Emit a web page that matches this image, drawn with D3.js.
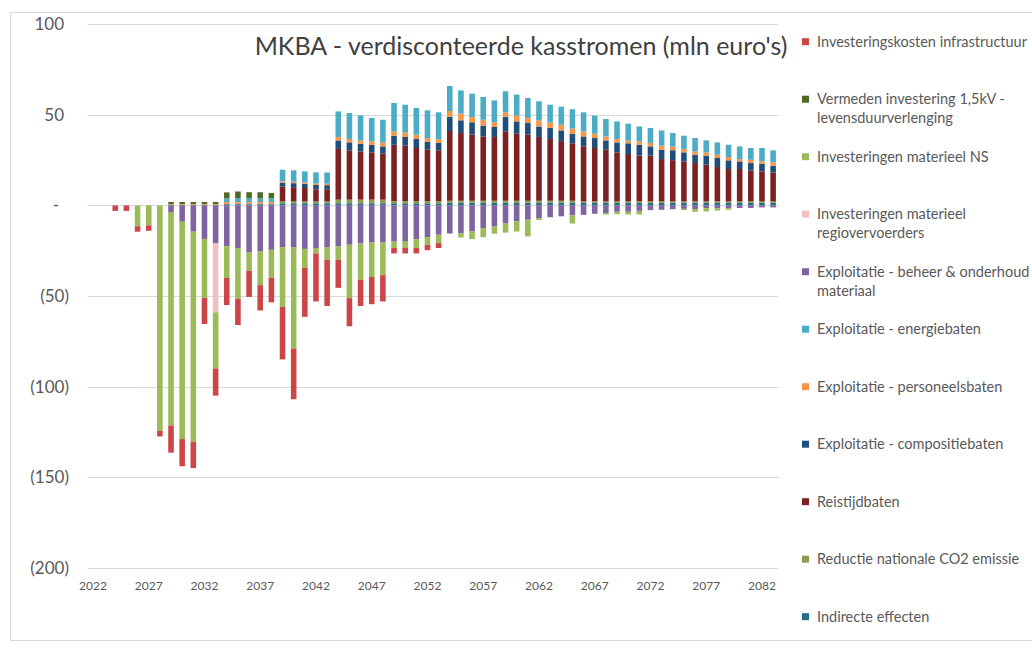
<!DOCTYPE html>
<html>
<head>
<meta charset="utf-8">
<script src="https://cdn.jsdelivr.net/npm/d3@7"></script>
<style>
  body { margin: 0; background: #fff; }
  svg { display: block; font-family: Lato, "Open Sans", sans-serif; }
</style>
</head>
<body>
<svg id="chart" width="1032" height="648"></svg>
<script>
// Years on the category axis
var years = d3.range(2022, 2084);

// Series values (mln euro), one value per year 2022..2083
var infra = [0,0,-3,-3,-3,-3,-3,-15,-15,-14.5,-14.5,-15,-15,-14.5,-14.5,-14,-13.5,-29,-28,-27,-26.5,-25.5,-15.5,-15.5,-14.5,-15,-14.5,-3,-3,-3,-3,-2.7,0,0,0,0,0,0,0,0,0,0,0,0,0,0,0,0,0,0,0,0,0,0,0,0,0,0,0,0,0,0];
var vermeden = [0,0,0,0,0,0,0,1.2,1.2,1.2,1.2,1.2,3.3,3.6,3.3,3.3,3.0,0,0,0,0,0,0,0,0,0,0,0,0,0,0,0,0,0,0,0,0,0,0,0,0,0,0,0,0,0,0,0,0,0,0,0,0,0,0,0,0,0,0,0,0,0];
var materieelNS = [0,0,0,0,-11.5,-11,-124.5,-117.5,-120,-116,-32.5,-31,-17.5,-28,-10,-18.5,-15.5,-33,-56,-10.5,-3,-7,-7.3,-29.5,-20,-19,-18,-3.5,-3.5,-4.9,-4.2,-4.6,0,-2.2,-4.2,-5,-4,-5,-5.6,-9.2,-1,0,0,-4.5,0,0,-0.8,-1.3,-1.5,-2,0,0,0,-0.7,-1.5,-1.8,-1.3,-0.9,0,0,0,0];
var regio = [0,0,0,0,0,0,0,0,0,0,0,-38,0,0,0,0,0,0,0,0,0,0,0,0,0,0,0,0,0,0,0,0,0,0,0,0,0,0,0,0,0,0,0,0,0,0,0,0,0,0,0,0,0,0,0,0,0,0,0,0,0,0];
var beheer = [0,0,0,0,0,0,0,-4,-9,-14.5,-18.5,-21,-22.5,-23.5,-26,-25.5,-24.5,-23,-23,-24,-23.5,-23,-22.7,-21.7,-21,-20.5,-20.5,-20,-20,-18.6,-17.5,-16.2,-15.5,-15.5,-14.4,-12.5,-11.6,-10,-8.8,-7.9,-7,-6.5,-6,-5.5,-5.2,-4.6,-4.2,-3.5,-3.5,-3,-2.6,-2.4,-2.1,-1.9,-2,-1.5,-1.5,-1.5,-1.4,-1.4,-1.1,-1.1];
var energie = [0,0,0,0,0,0,0,0,0,0,0,0,2.0,2.2,2.1,2.1,2.0,6.4,6.3,6.1,6.2,6.2,14.1,14.3,13.8,12.9,12.5,15.7,15.3,14.7,15.3,14.7,13.8,12.8,12.9,12.6,12.1,11.6,11.6,11,10.5,9.7,10,10.7,10.5,10,9.6,9.7,9.2,8.2,8.3,8.4,7.5,7.3,7.4,6.6,6.8,6.8,7,6.5,7.4,6.6];
var personeel = [0,0,0,0,0,0,0,0.4,0.4,0.4,0.4,0.4,1,1,1,1,1,0.8,0.8,0.8,0.8,0.8,1.9,1.9,1.8,2,2.2,2.4,2.5,2.4,2,2.2,3.2,3.7,2.9,3.3,2.6,2.6,3.2,2.8,3.4,3.1,3.1,2.8,2.8,2.4,2.2,1.9,1.6,1.9,1.9,2.2,2,1.9,1.8,1.8,1.8,1.8,1.3,1.8,1.3,1.9];
var compositie = [0,0,0,0,0,0,0,0,0,0,0,0,0.4,0.4,0.4,0.4,0.4,2,2.2,2.3,2.4,2.3,4.7,4.4,4.3,4.1,4,5,4.8,5,4.4,4.1,7.8,7,6.8,5.9,5.5,7.9,6.8,6.4,5.8,6.1,5.9,5.3,5.5,5.5,5.1,5.5,5.9,6,5.1,5.2,5.5,5,4.6,5,5,4.8,4.2,4.1,4.2,3.7];
var reistijd = [0,0,0,0,0,0,0,0,0,0,0,0,0,0,0,0,0,8.3,7.9,7.4,6.7,6.7,28,27.2,26.6,26.1,25.4,31.1,30.6,29.3,28.4,28,38.5,37.4,36.5,35.5,35.2,38.3,37,36.5,35.2,34.1,32.9,31.7,30.4,29.5,28.6,27.1,26.2,25.3,25.3,23.4,22.8,22.1,21.2,20.3,19,17.9,17.9,17.1,16.6,16];
var co2 = [0,0,0,0,0,0,0,0,0,0,0,0,0,0,0,0,0,1,1,1,1,1,2,2,2,2,2,1.2,1.2,1.2,1.2,1.2,1.2,1.2,1.2,1.2,1.2,1.2,1.2,1.2,1.2,1.2,1.2,1.2,0.8,0.8,0.8,0.8,0.8,0.8,0.8,0.8,0.8,0.8,0.8,0.8,0.8,0.8,0.8,0.8,0.8,0.8];
var indirect = [0,0,0,0,0,0,0,0.3,0.3,0.3,0.3,0.3,0.5,0.5,0.5,0.5,0.5,1.2,1.2,1.2,1.2,1.2,1.2,1.2,1.2,1.2,1.2,1.2,1.2,1.2,1.2,1.2,1.4,1.4,1.4,1.4,1.4,1.4,1.4,1.4,1.4,1.4,1.4,1.4,1.4,1.4,1.4,1.4,1.4,1.4,1.4,1.4,1.4,1.4,1.4,1.4,1.4,1.4,1.4,1.4,1.4,1.4];

// Legend labels (top to bottom) and y tick labels
var legendLabels = [
    ['Investeringskosten infrastructuur'],
    ['Vermeden investering 1,5kV -', 'levensduurverlenging'],
    ['Investeringen materieel NS'],
    ['Investeringen materieel', 'regiovervoerders'],
    ['Exploitatie - beheer & onderhoud', 'materiaal'],
    ['Exploitatie - energiebaten'],
    ['Exploitatie - personeelsbaten'],
    ['Exploitatie - compositiebaten'],
    ['Reistijdbaten'],
    ['Reductie nationale CO2 emissie'],
    ['Indirecte effecten']
];
var yTicks = [100, 50, 0, -50, -100, -150, -200];
var yTickLabels = ['100', '50', '-', '(50)', '(100)', '(150)', '(200)'];

// Legend order = top of stack first; stacking order is the reverse
var legendKeys = ['infra', 'vermeden', 'materieelNS', 'regio', 'beheer', 'energie', 'personeel', 'compositie', 'reistijd', 'co2', 'indirect'];
var colors = {
    infra: '#cc4547', vermeden: '#4f6a26', materieelNS: '#9bbb59', regio: '#f5bec3',
    beheer: '#8064a2', energie: '#4bacc6', personeel: '#f79646', compositie: '#1f4e7d',
    reistijd: '#7c2122', co2: '#8d9a52', indirect: '#236f8a'
};
var series = {
    infra: infra, vermeden: vermeden, materieelNS: materieelNS, regio: regio, beheer: beheer,
    energie: energie, personeel: personeel, compositie: compositie, reistijd: reistijd,
    co2: co2, indirect: indirect
};
var stackKeys = legendKeys.slice().reverse();

var rows = years.map(function(y, i) {
    var row = { year: y };
    legendKeys.forEach(function(k) { row[k] = series[k][i]; });
    return row;
});

var svg = d3.select('#chart');
var plotLeft = 87.4, plotRight = 778.7, plotTop = 24.3, plotBottom = 567.7;

// chart frame
svg.append('rect')
    .attr('x', 10.5).attr('y', 12.5)
    .attr('width', 1040).attr('height', 628)
    .attr('fill', 'none').attr('stroke', '#d9d9d9');

var x = d3.scaleBand()
    .domain(years)
    .range([plotLeft, plotRight])
    .paddingInner(0.5)
    .paddingOuter(0.25);

var y = d3.scaleLinear()
    .domain([-200, 100])
    .range([plotBottom, plotTop]);

// gridlines
svg.append('g')
    .selectAll('line')
    .data(yTicks)
    .enter()
    .append('line')
    .attr('x1', plotLeft).attr('x2', plotRight)
    .attr('y1', function(d) { return Math.round(y(d)) + 0.5; })
    .attr('y2', function(d) { return Math.round(y(d)) + 0.5; })
    .attr('stroke', '#d9d9d9')
    .attr('stroke-width', 1);

// y tick labels (accounting style)
svg.append('g')
    .selectAll('text')
    .data(yTicks)
    .enter()
    .append('text')
    .attr('x', function(d) { return d < 0 ? 69 : (d === 0 ? 59 : 64); })
    .attr('y', function(d) { return y(d); })
    .attr('dy', '0.35em')
    .attr('text-anchor', 'end')
    .attr('fill', '#595959')
    .style('font-size', '17px')
    .text(function(d, i) { return yTickLabels[i]; });

// stacked bars
var stacked = d3.stack()
    .keys(stackKeys)
    .offset(d3.stackOffsetDiverging)(rows);

svg.append('g')
    .selectAll('g')
    .data(stacked)
    .enter()
    .append('g')
    .attr('fill', function(d) { return colors[d.key]; })
    .selectAll('rect')
    .data(function(d) { return d; })
    .enter()
    .append('rect')
    .attr('x', function(d) { return x(d.data.year); })
    .attr('width', x.bandwidth())
    .attr('y', function(d) { return y(Math.max(d[0], d[1])); })
    .attr('height', function(d) { return Math.abs(y(d[0]) - y(d[1])); });

// x axis labels, every 5 years
var xAxis = d3.axisBottom(x)
    .tickValues(years.filter(function(d) { return (d - 2022) % 5 === 0; }))
    .tickSize(0)
    .tickPadding(14);

var gx = svg.append('g')
    .attr('transform', 'translate(0,' + plotBottom + ')')
    .call(xAxis);
gx.select('.domain').remove();
gx.selectAll('text')
    .attr('fill', '#595959')
    .style('font-family', 'Lato, sans-serif')
    .style('font-size', '12px');

// title
svg.append('text')
    .attr('x', 521)
    .attr('y', 55)
    .attr('text-anchor', 'middle')
    .attr('fill', '#404040')
    .style('font-size', '25px')
    .text("MKBA - verdisconteerde kasstromen (mln euro's)");

// legend
var legend = svg.append('g')
    .selectAll('g')
    .data(legendKeys)
    .enter()
    .append('g')
    .attr('transform', function(d, i) { return 'translate(802,' + (41.7 + i * 57.5) + ')'; });

legend.append('rect')
    .attr('x', 0).attr('y', -3.5)
    .attr('width', 7).attr('height', 7)
    .attr('fill', function(d) { return colors[d]; });

legend.append('text')
    .attr('fill', '#595959')
    .style('font-size', '14.5px')
    .selectAll('tspan')
    .data(function(d, i) { return legendLabels[i]; })
    .enter()
    .append('tspan')
    .attr('x', 15)
    .attr('y', function(d, j) { return j * 19; })
    .attr('dy', '0.35em')
    .text(function(d) { return d; });
</script>
</body>
</html>
